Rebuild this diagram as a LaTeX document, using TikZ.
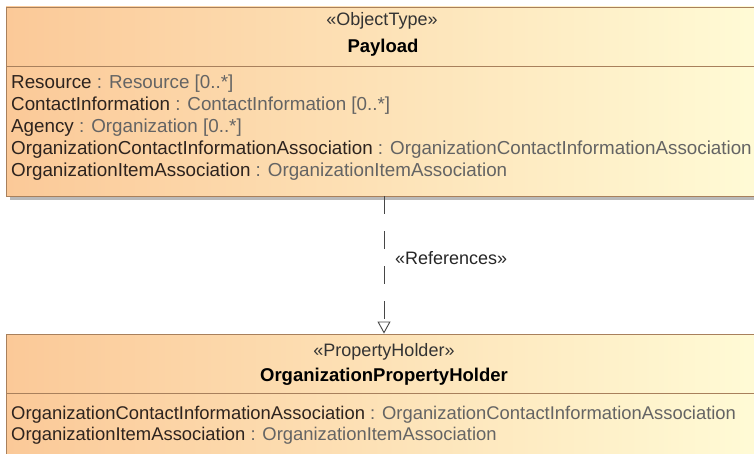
\documentclass[tikz,border=0pt]{standalone}
\usepackage{fontspec}
\setmainfont{Liberation Sans}
\usetikzlibrary{arrows.meta,calc}
\definecolor{gradL}{RGB}{251,201,152}
\definecolor{gradR}{RGB}{255,251,214}
\definecolor{edgec}{RGB}{168,128,92}
\definecolor{shadowc}{RGB}{185,185,185}
\definecolor{namec}{RGB}{45,35,30}
\definecolor{typec}{RGB}{100,100,100}
\definecolor{linec}{RGB}{70,70,70}
\tikzset{
  umlbox/.style={draw=edgec, line width=0.9pt, left color=gradL, right color=gradR, inner sep=0pt},
  boxshadow/.style={fill=shadowc, draw=none},
  sepline/.style={draw=edgec, line width=0.9pt},
  stereo/.style={inner sep=0pt, text=black!80, font=\fontsize{18}{22}\selectfont},
  cname/.style={inner sep=0pt, text=black, font=\fontsize{18.5}{22}\selectfont\bfseries},
  attr/.style={inner sep=0pt, anchor=base west, font=\fontsize{18.8}{22}\selectfont},
  attrb/.style={inner sep=0pt, anchor=base west, font=\fontsize{18.4}{22}\selectfont},
  deparrow/.style={draw=linec, line width=0.9pt, dash pattern=on 18pt off 17pt,
    -{Triangle[open, width=13pt, length=12pt, fill=white]}},
  deplabel/.style={inner sep=0pt, anchor=west, text=black!85, font=\fontsize{18}{22}\selectfont}
}
\newcommand{\nm}[1]{\textcolor{namec}{#1}}
\newcommand{\tp}[1]{\textcolor{typec}{#1}}
\begin{document}
\begin{tikzpicture}[x=1pt, y=-1pt]
\useasboundingbox (0,0) rectangle (754,454);
\clip (0,0) rectangle (754,454);
% top box
\fill[boxshadow] (10,11) rectangle (766,200);
\node[umlbox, minimum width=756pt, minimum height=189pt] (payload) at (384,101.5) {};
\draw[sepline] (6,66) -- (762,66);
\node[stereo] (payloadst) at (382,21) {«ObjectType»};
\node[cname] (payloadnm) at (383,48) {Payload};
\node[attr] (a1) at (11,89) {\nm{Resource} \tp{: Resource [0..*]}};
\node[attr] (a2) at (11,111) {\nm{ContactInformation} \tp{: ContactInformation [0..*]}};
\node[attr] (a3) at (11,133) {\nm{Agency} \tp{: Organization [0..*]}};
\node[attr] (a4) at (11,155) {\nm{OrganizationContactInformationAssociation} \tp{: OrganizationContactInformationAssociation}};
\node[attr] (a5) at (11,177) {\nm{OrganizationItemAssociation} \tp{: OrganizationItemAssociation}};
% bottom box
\fill[boxshadow] (10,338) rectangle (766,470);
\node[umlbox, minimum width=756pt, minimum height=130pt] (holder) at (384,399) {};
\draw[sepline] (6,393) -- (762,393);
\node[stereo] (holderst) at (384,352) {«PropertyHolder»};
\node[cname] (holdernm) at (384,377) {OrganizationPropertyHolder};
\node[attrb] (b1) at (11,419) {\nm{OrganizationContactInformationAssociation} \tp{: OrganizationContactInformationAssociation}};
\node[attrb] (b2) at (11,440) {\nm{OrganizationItemAssociation} \tp{: OrganizationItemAssociation}};
% dependency
\draw[deparrow] (payload.south) -- (holder.north);
\node[deplabel] (deplbl) at (395,258) {«References»};
\end{tikzpicture}
\end{document}
